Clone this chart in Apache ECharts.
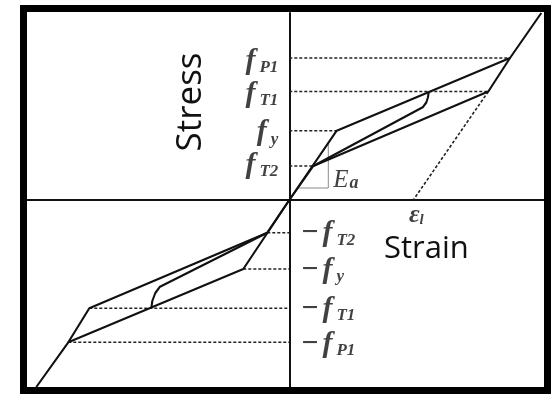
<!DOCTYPE html>
<html>
<head>
<meta charset="utf-8">
<style>
  html, body { margin: 0; padding: 0; background: #fff; }
  #chart { width: 556px; height: 394px; }
</style>
<script src="https://cdn.jsdelivr.net/npm/echarts@6/dist/echarts.min.js"></script>
</head>
<body>
<div id="chart"></div>
<script>
// Superelastic stress–strain loop (strain on x, stress on y, arbitrary units)

// Tension branch
const upperLoading   = [[0, 0], [4.74, 6.93], [22.07, 14.2], [25.2, 18.7]];
const upperUnloading = [[22.07, 14.2], [19.9, 10.85], [2.4, 3.4], [0, 0]];
const upperInner     = [[13.95, 10.85], [13.86, 10.25], [13.7, 9.75], [13.34, 9.27], [2.4, 3.4]];

// Compression branch
const lowerLoading   = [[0, 0], [-4.6, -6.9], [-22.1, -14.23], [-25.3, -18.7]];
const lowerUnloading = [[-22.1, -14.23], [-20.0, -10.83], [-2.2, -3.27], [0, 0]];
const lowerInner     = [[-13.8, -10.83], [-13.7, -10.1], [-13.4, -9.3], [-12.93, -8.67], [-2.2, -3.27]];

// Stress levels: value, strain where the guide line ends, subscript
const posLevels  = [14.2, 10.85, 6.93, 3.4];
const posStrains = [22.07, 19.9, 4.74, 2.4];
const posSubs    = ['P1', 'T1', 'y', 'T2'];

const negLevels  = [-3.27, -6.9, -10.83, -14.23];
const negStrains = [-2.2, -4.6, -20.0, -22.1];
const negSubs    = ['T2', 'y', 'T1', 'P1'];

// Unloading line down to the residual strain, and the modulus triangle
const residualLine  = [[19.9, 10.85], [12.4, 0]];
const slopeTriangle = [[0.9, 1.2], [3.9, 1.2], [3.9, 5.7]];
const residualStrain = 12.4;

const SERIF = '"Liberation Serif", "Times New Roman", serif';

// vertical nudge of each level label (px), keeps the glyphs centred on their guide line
const posLabelShift = [3, 3, 2, -1];
const negLabelShift = [1, 1, 1, 2];

const chart = echarts.init(document.getElementById('chart'));

const solid = (data) => ({
  type: 'line', data, symbol: 'none', silent: true,
  lineStyle: { color: '#111', width: 2.1 }, z: 3
});
const dashed = (data) => ({
  type: 'line', data, symbol: 'none', silent: true,
  lineStyle: { color: '#222', width: 1.6, type: [3, 2] }, z: 2
});

const mathRich = {
  m: { fontFamily: SERIF, fontWeight: 'bold', fontSize: 30, color: '#111', padding: [0, 4, 0, 0] },
  f: { fontFamily: SERIF, fontStyle: 'italic', fontWeight: 'bold', fontSize: 30, color: '#111' },
  s: { fontFamily: SERIF, fontStyle: 'italic', fontWeight: 'bold', fontSize: 17, color: '#111',
       verticalAlign: 'bottom', padding: [0, 0, 0, 4] }
};

const series = [
  solid(upperLoading), solid(upperUnloading), solid(upperInner),
  solid(lowerLoading), solid(lowerUnloading), solid(lowerInner),
  dashed(residualLine),
  {
    type: 'line', data: slopeTriangle, symbol: 'none', silent: true,
    lineStyle: { color: '#8a8a8a', width: 1 }, z: 1
  }
];

posLevels.forEach((v, i) => series.push(dashed([[0, v], [posStrains[i], v]])));
negLevels.forEach((v, i) => series.push(dashed([[negStrains[i], v], [0, v]])));

// Level labels on the stress axis
series.push({
  type: 'scatter', symbolSize: 0, silent: true, z: 5,
  data: posLevels.map((v, i) => ({
    value: [0, v], sub: posSubs[i], label: { offset: [0, posLabelShift[i]] }
  })),
  label: {
    show: true, position: 'left', distance: 11,
    formatter: (p) => '{f|f}{s|' + p.data.sub + '}', rich: mathRich
  }
});
series.push({
  type: 'scatter', symbolSize: 0, silent: true, z: 5,
  data: negLevels.map((v, i) => ({
    value: [0, v], sub: negSubs[i], label: { offset: [0, negLabelShift[i]] }
  })),
  label: {
    show: true, position: 'right', distance: 12,
    formatter: (p) => '{m|\u2212}{f|f}{s|' + p.data.sub + '}', rich: mathRich
  }
});
// Modulus and residual strain labels
series.push({
  type: 'scatter', symbolSize: 0, silent: true, z: 5,
  data: [{ value: [slopeTriangle[1][0], slopeTriangle[1][1]], txt: '{e|E}{a|a}' }],
  label: {
    show: true, position: 'right', distance: 5, offset: [0, -8],
    formatter: (p) => p.data.txt,
    rich: {
      e: { fontFamily: SERIF, fontStyle: 'italic', fontSize: 25, color: '#111' },
      a: { fontFamily: SERIF, fontStyle: 'italic', fontWeight: 'bold', fontSize: 18, color: '#111',
           verticalAlign: 'bottom', padding: [0, 0, 0, 1] }
    }
  }
});
series.push({
  type: 'scatter', symbolSize: 0, silent: true, z: 5,
  data: [{ value: [residualStrain, 0] }],
  label: {
    show: true, position: 'bottom', distance: 2, offset: [3, 0],
    formatter: '{e|\u03B5}{l|l}',
    rich: {
      e: { fontFamily: SERIF, fontStyle: 'italic', fontWeight: 'bold', fontSize: 26, color: '#111' },
      l: { fontFamily: SERIF, fontStyle: 'italic', fontWeight: 'bold', fontSize: 15, color: '#111',
           verticalAlign: 'bottom' }
    }
  }
});

chart.setOption({
  animation: false,
  backgroundColor: '#fff',
  grid: { left: 27, top: 13, width: 518, height: 374, containLabel: false },
  xAxis: {
    type: 'value', min: -26.23, max: 25.57,
    axisLine: { show: true, onZero: true, lineStyle: { color: '#111', width: 2 } },
    axisTick: { show: false }, axisLabel: { show: false }, splitLine: { show: false }
  },
  yAxis: {
    type: 'value', min: -18.7, max: 18.7,
    axisLine: { show: true, onZero: true, lineStyle: { color: '#111', width: 2 } },
    axisTick: { show: false }, axisLabel: { show: false }, splitLine: { show: false }
  },
  series,
  graphic: [
    {
      type: 'rect', z: 10, silent: true,
      shape: { x: 23.5, y: 8.5, width: 524, height: 382 },
      style: { fill: 'none', stroke: '#000', lineWidth: 7 }
    },
    {
      type: 'text', x: 191, y: 102, rotation: Math.PI / 2, z: 10, silent: true,
      style: { text: 'Stress', font: '35px "Open Sans"', fill: '#111', align: 'center', verticalAlign: 'middle' }
    },
    {
      type: 'text', x: 384, y: 249, z: 10, silent: true,
      style: { text: 'Strain', font: '31px "Open Sans"', fill: '#111', align: 'left', verticalAlign: 'middle' }
    }
  ]
});
</script>
</body>
</html>
